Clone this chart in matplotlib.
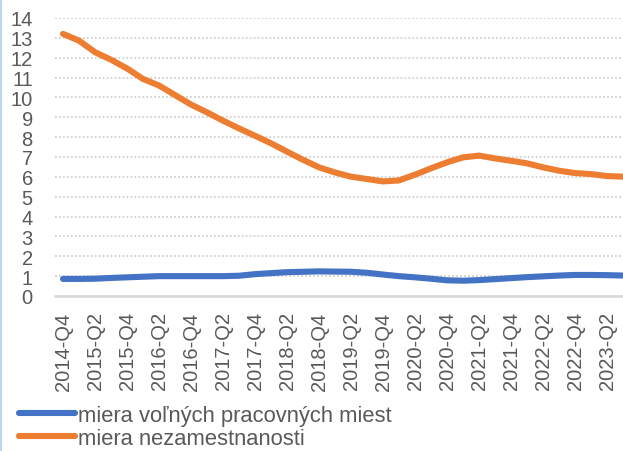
import matplotlib
matplotlib.use("Agg")
import matplotlib.pyplot as plt
from matplotlib.lines import Line2D

plt.rcParams['font.family'] = ['Liberation Sans', 'DejaVu Sans']

# quarters 2014-Q4 .. 2023-Q3
years = [2014] + [y for y in range(2015, 2023) for _ in range(4)] + [2023] * 3
qs = [4] + [1, 2, 3, 4] * 8 + [1, 2, 3]
quarters = ['%d-Q%d' % (y, q) for y, q in zip(years, qs)]

volne_miesta = [0.86, 0.86, 0.87, 0.91, 0.94, 0.97, 1.0, 1.0, 1.0, 1.0,
                1.0, 1.02, 1.1, 1.15, 1.2, 1.22, 1.24, 1.23, 1.22, 1.17,
                1.08, 1.0, 0.94, 0.87, 0.79, 0.77, 0.8, 0.85, 0.9, 0.95,
                0.99, 1.03, 1.06, 1.06, 1.05, 1.03]
nezamestnanost = [13.2, 12.86, 12.28, 11.9, 11.46, 10.93, 10.6, 10.12, 9.64, 9.25,
                  8.83, 8.44, 8.07, 7.69, 7.27, 6.86, 6.48, 6.22, 6.01, 5.89,
                  5.77, 5.82, 6.11, 6.43, 6.73, 6.98, 7.07, 6.93, 6.81, 6.68,
                  6.48, 6.31, 6.19, 6.14, 6.04, 6.01]

labels = ['miera voľných pracovných miest', 'miera nezamestnanosti']
colors = ['#4472C4', '#ED7D31']
grey = '#595959'

W, H = 623, 452
fig = plt.figure(figsize=(W / 100, H / 100), dpi=100)
ax = fig.add_axes([55 / W, (H - 297) / H, (W - 55) / W, 278 / H])

x = list(range(len(quarters)))
ax.plot(x, volne_miesta, color=colors[0], lw=4.4, solid_capstyle='round')
ax.plot(x, nezamestnanost, color=colors[1], lw=4.4, solid_capstyle='round')

ax.set_xlim(-0.5, 35.0)
ax.set_ylim(0, 14)
ax.set_yticks(range(0, 15))
ax.set_xticks(x[::2])
ax.set_xticklabels(quarters[::2], rotation=90, fontsize=14.5, color=grey)
ax.tick_params(axis='y', length=0, pad=16, labelsize=14.5, labelcolor=grey)
ax.tick_params(axis='x', length=0, pad=11)
ax.grid(axis='y', color='#D0D0D0', ls=(0, (1, 1.2)), lw=1.3)
ax.set_axisbelow(True)
for s in ['top', 'right', 'left']:
    ax.spines[s].set_visible(False)
ax.spines['bottom'].set_color('#D9D9D9')
ax.spines['bottom'].set_linewidth(1.8)

handles = [Line2D([], [], color=c, lw=4.4, solid_capstyle='round') for c in colors]
fig.legend(handles, labels, loc='upper left', bbox_to_anchor=(19 / W, (H - 406) / H),
           frameon=False, borderaxespad=0, borderpad=0, handlelength=2.55,
           handletextpad=0.15, labelspacing=0.08, fontsize=15.8, labelcolor=grey)

# light blue frame edge on the left
fig.add_artist(Line2D([1 / W, 1 / W], [0, 1], transform=fig.transFigure,
                      color='#BDD7EE', lw=1.5))

fig.savefig('out.png', dpi=100)
